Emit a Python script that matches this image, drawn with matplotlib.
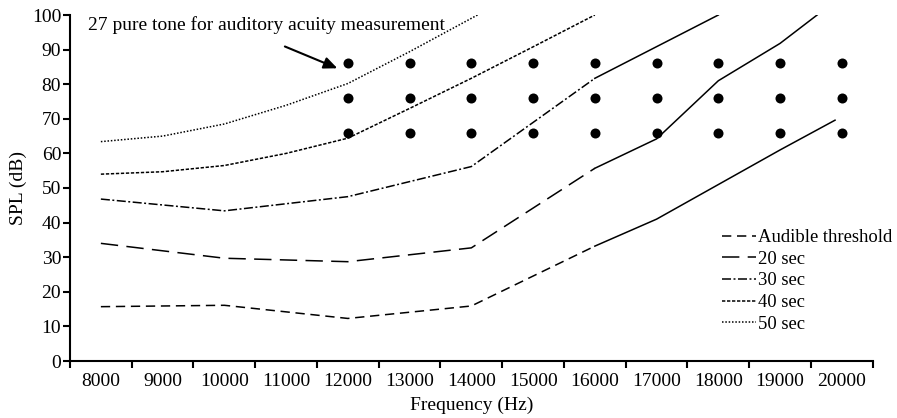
import matplotlib
matplotlib.use("Agg")
import matplotlib.pyplot as plt

plt.rcParams['font.family'] = ['Liberation Serif', 'DejaVu Serif']
plt.rcParams['lines.scale_dashes'] = False

# ---- data ----
categories = [8000, 9000, 10000, 11000, 12000, 13000, 14000,
              15000, 16000, 17000, 18000, 19000, 20000]

audible_f = [8000, 10000, 12000, 14000, 16000]
audible_db = [15.7, 16.1, 12.3, 15.9, 33.2]
audible_ext_f = [16000, 17000, 18000, 19000, 19890]
audible_ext_db = [33.2, 41.0, 51.0, 61.0, 69.6]

s20_f = [8000, 10000, 12000, 14000, 16000]
s20_db = [34.0, 29.7, 28.7, 32.7, 55.7]
s20_ext_f = [16000, 17000, 18000, 19000, 19600]
s20_ext_db = [55.7, 64.2, 81.0, 91.8, 100.0]

s30_f = [8000, 10000, 12000, 14000, 16000]
s30_db = [46.8, 43.4, 47.5, 56.2, 81.7]
s30_ext_f = [16000, 18000]
s30_ext_db = [81.7, 100.0]

s40_f = [8000, 9000, 10000, 11000, 12000, 13000, 14000, 15000, 16000]
s40_db = [54.0, 54.7, 56.5, 60.0, 64.4, 73.0, 81.7, 90.8, 100.0]

s50_f = [8000, 9000, 10000, 11000, 12000, 13000, 14100]
s50_db = [63.4, 65.0, 68.5, 73.9, 80.2, 89.4, 100.0]

tone_f = [12000, 13000, 14000, 15000, 16000, 17000, 18000, 19000, 20000]
tone_levels = [86, 76, 66]

legend_labels = ['Audible threshold', '20 sec', '30 sec', '40 sec', '50 sec']
annotation_text = '27 pure tone for auditory acuity measurement'

# ---- figure ----
W, H = 897, 418
fig = plt.figure(figsize=(W / 100, H / 100), dpi=100)
ax = fig.add_axes([70 / W, 1 - 361 / H, (872.7 - 70) / W, (361 - 15) / H])

FS = 14.0
LFS = 13.4
lw = 1.1
styles = [
    (0, (6.7, 4.1)),
    (0, (12.5, 6.0)),
    (0, (6.5, 1.8, 1.4, 1.8)),
    (0, (2.4, 1.2)),
    (0, (1.1, 1.3)),
]

ax.plot(audible_f, audible_db, color='black', lw=lw, ls=styles[0], label=legend_labels[0])
ax.plot(s20_f, s20_db, color='black', lw=lw, ls=styles[1], label=legend_labels[1])
ax.plot(s30_f, s30_db, color='black', lw=lw, ls=styles[2], label=legend_labels[2])
ax.plot(s40_f, s40_db, color='black', lw=lw, ls=styles[3], label=legend_labels[3])
ax.plot(s50_f, s50_db, color='black', lw=lw, ls=styles[4], label=legend_labels[4])

ax.plot(audible_ext_f, audible_ext_db, color='black', lw=lw, ls='-')
ax.plot(s20_ext_f, s20_ext_db, color='black', lw=lw, ls='-')
ax.plot(s30_ext_f, s30_ext_db, color='black', lw=lw, ls='-')

tx = [f for f in tone_f for _ in tone_levels]
ty = [l for _ in tone_f for l in tone_levels]
ax.scatter(tx, ty, s=52, color='black', zorder=5, linewidths=0)

ax.set_xlim(7500, 20500)
ax.set_ylim(0, 100)

for s in ['top', 'right']:
    ax.spines[s].set_visible(False)
for s in ['left', 'bottom']:
    ax.spines[s].set_linewidth(1.5)

ax.set_yticks(range(0, 101, 10))
ax.set_xticks([c - 500 for c in categories] + [categories[-1] + 500])
ax.set_xticklabels([])
ax.set_xticks(categories, minor=True)
ax.set_xticklabels([str(c) for c in categories], minor=True)
ax.tick_params(axis='both', which='major', direction='out', length=4.8, width=1.5,
               labelsize=FS, color='black')
ax.tick_params(axis='y', which='major', pad=1.5)
ax.tick_params(axis='x', which='minor', length=0, pad=9, labelsize=FS)

ax.text(7790, 97.1, annotation_text, fontsize=FS, ha='left', va='center')
ax.annotate('', xy=(11830, 84.6), xytext=(10980, 90.9),
            arrowprops=dict(arrowstyle='-|>,head_length=0.8,head_width=0.35',
                            lw=1.5, color='black', shrinkA=0, shrinkB=0))

fig.text(472 / W, 1 - 405 / H, 'Frequency (Hz)', fontsize=FS, ha='center', va='center')
fig.text(18 / W, 1 - 188 / H, 'SPL (dB)', fontsize=FS, ha='center', va='center', rotation=90)

ax.legend(loc='upper left', bbox_to_anchor=(722 / W, 1 - 229 / H),
          bbox_transform=fig.transFigure, frameon=False, borderpad=0,
          borderaxespad=0, handlelength=1.85, handletextpad=0.1,
          labelspacing=0.25, fontsize=LFS)

fig.savefig('out.png', dpi=100)
